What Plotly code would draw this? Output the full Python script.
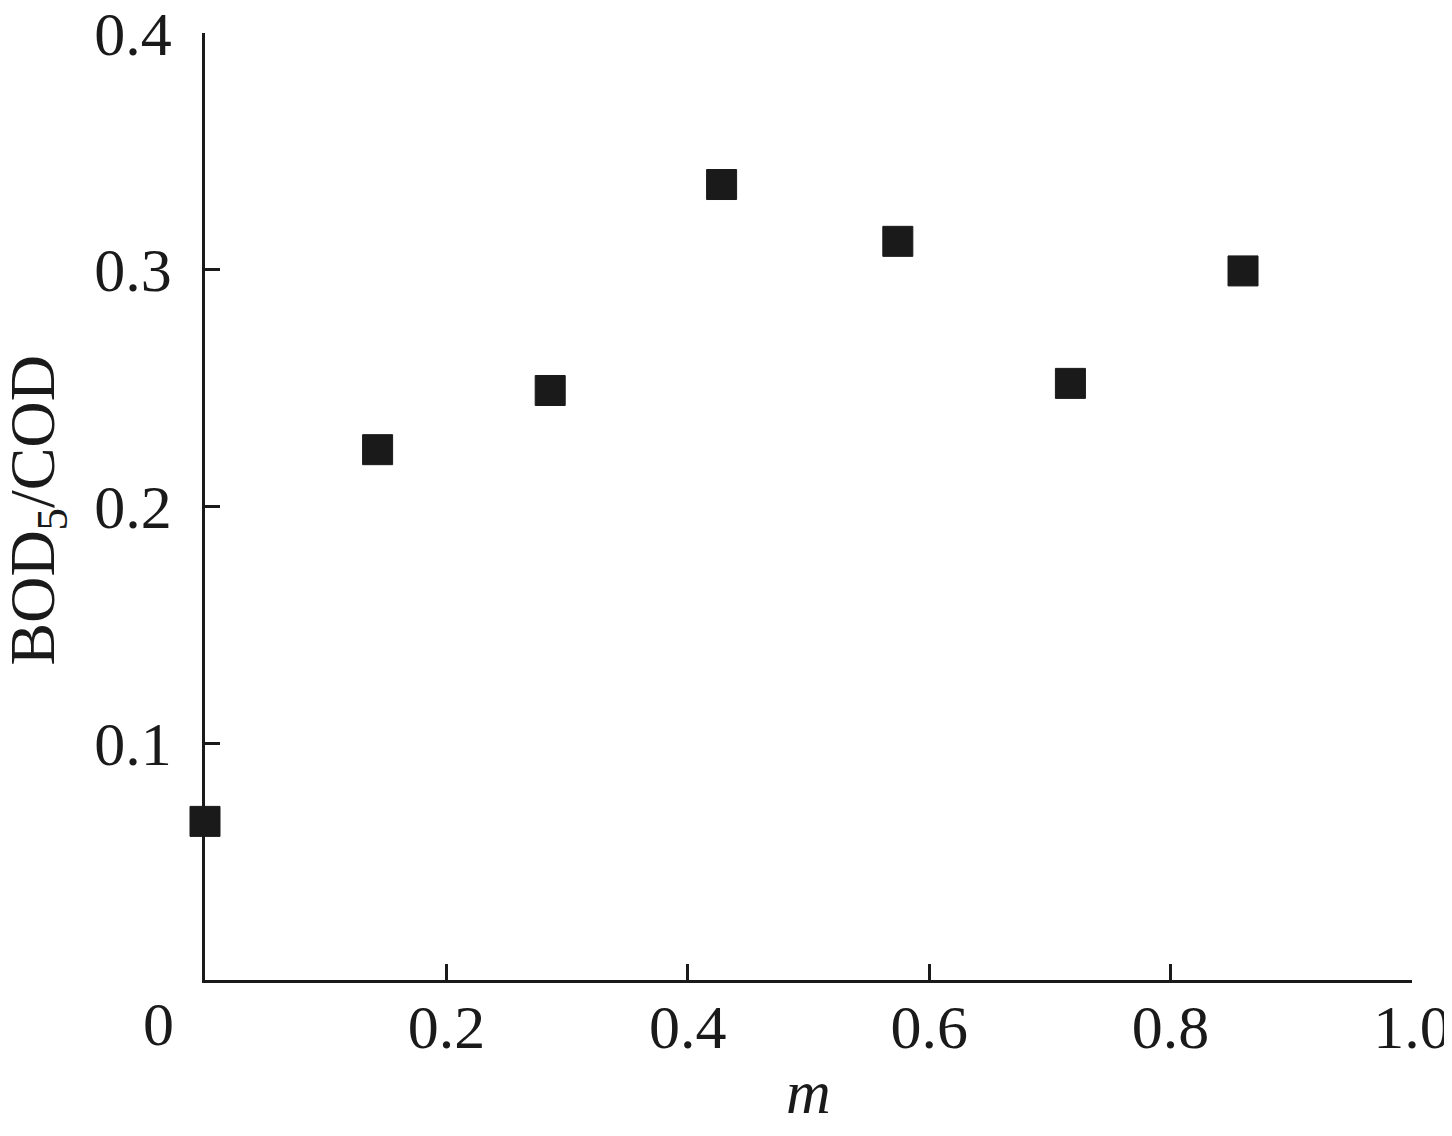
import plotly.graph_objects as go

m_values = [0.0, 0.143, 0.286, 0.428, 0.574, 0.717, 0.860]
bod_cod = [0.067, 0.224, 0.249, 0.336, 0.312, 0.252, 0.2995]

x_tickvals = [0.2, 0.4, 0.6, 0.8, 1.0]
x_ticktext = ["0.2", "0.4", "0.6", "0.8", "1.0"]
y_tickvals = [0.1, 0.2, 0.3, 0.4]
y_ticktext = ["0.1", "0.2", "0.3", "0.4"]

ink = "#1a1a1a"
font_family = "Liberation Serif"

fig = go.Figure()
fig.add_trace(go.Scatter(
    x=m_values, y=bod_cod, mode="markers",
    marker=dict(symbol="square", size=30, color=ink, line=dict(color=ink, width=1)),
    cliponaxis=False, showlegend=False,
))

fig.update_layout(
    width=1452, height=1118,
    margin=dict(l=197, r=48, t=25, b=146, autoexpand=False),
    paper_bgcolor="white", plot_bgcolor="white",
    font=dict(family=font_family, size=62, color=ink),
    xaxis=dict(
        range=[0, 1.0], showgrid=False, zeroline=False,
        showline=True, linecolor=ink, linewidth=2.5,
        ticks="inside", ticklen=16, tickwidth=2.5, tickcolor=ink,
        tickvals=x_tickvals, ticktext=x_ticktext,
        tickfont=dict(family=font_family, size=62, color=ink),
        ticklabelstandoff=-9, ticklabeloverflow="allow",
        title=dict(text="<i>m</i>", font=dict(family=font_family, size=62, color=ink), standoff=12),
        automargin=False,
    ),
    yaxis=dict(
        range=[0, 0.4], showgrid=False, zeroline=False,
        showline=True, linecolor=ink, linewidth=2.5,
        ticks="inside", ticklen=15, tickwidth=2.5, tickcolor=ink,
        tickvals=y_tickvals, ticktext=y_ticktext,
        tickfont=dict(family=font_family, size=62, color=ink),
        ticklabelstandoff=18, ticklabeloverflow="allow",
        automargin=False,
    ),
    annotations=[
        dict(
            x=0, y=0, xref="x", yref="y", text="0", showarrow=False,
            xanchor="center", yanchor="top", xshift=-47, yshift=-8,
            font=dict(family=font_family, size=62, color=ink),
        ),
        dict(
            x=0, y=0.5, xref="paper", yref="paper", text="BOD<sub>5</sub>/COD",
            showarrow=False, textangle=-90, xanchor="center", yanchor="middle",
            xshift=-169, yshift=-4,
            font=dict(family=font_family, size=64, color=ink),
        ),
    ],
)

fig.write_html("out.html")
